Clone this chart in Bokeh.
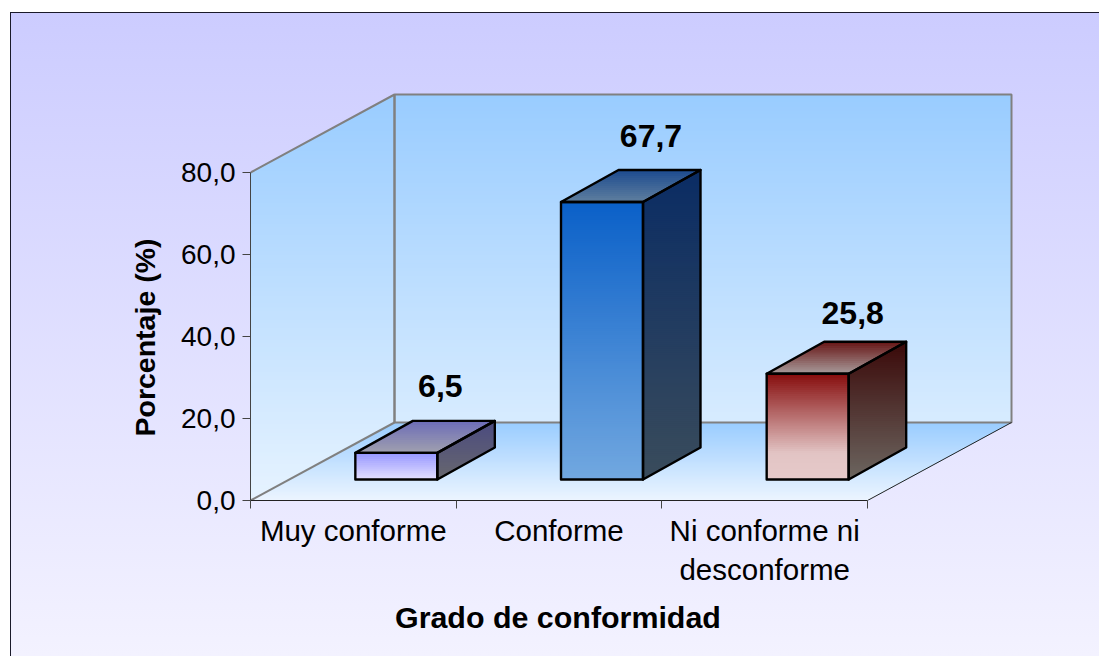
from bokeh.plotting import figure
from bokeh.embed import file_html
from bokeh.resources import INLINE
from bokeh.models import Range1d, FixedTicker, Title
from bokeh.core.properties import value

# ---- data ----
categories = ["Muy conforme", "Conforme", "Ni conforme ni\ndesconforme"]
percent = [6.5, 67.7, 25.8]
y_ticks = [0, 20, 40, 60, 80]
y_title = "Porcentaje (%)"
x_title = "Grado de conformidad"

# ---- layout / scale constants (pixels of the figure) ----
W, H = 1099, 656
PX_CAT = 205.67      # pixels per category
PX_VAL = 4.1         # pixels per percentage point
ML, MB = 250, 156
DX, DY = 144 / PX_CAT, 78 / PX_VAL        # depth of the 3D box, data units
BAR_W = 82 / PX_CAT
BAR_OX, BAR_OY = 43 / PX_CAT, 21 / PX_VAL  # front face offset from the floor front
BAR_DX, BAR_DY = 57.5 / PX_CAT, 32 / PX_VAL  # bar depth
LABEL_OX = [87 / PX_CAT, 92 / PX_CAT, 88 / PX_CAT]
LABEL_OY = [34.4 / PX_VAL, 34.4 / PX_VAL, 29.2 / PX_VAL]

# ---- colours ----
WALL = ["#99ccff", "#e6f3ff"]
FLOOR = ["#99ccff", "#ecf5ff"]
FRONTS = [
    [(0, "#9696ff"), (1, "#e4e0ff")],
    [(0, "#0a60c8"), (1, "#72a8e0")],
    [(0, "#860c0c"), (0.75, "#e2c4c4"), (1, "#e6caca")],
]
TOPS = [
    [(0, "#6c6cb8"), (1, "#a0a0ae")],
    [(0, "#1c4a8e"), (1, "#5f7f9f")],
    [(0, "#661414"), (1, "#a89c9c")],
]
SIDES = [
    [(0, "#4a4a80"), (1, "#68686e")],
    [(0, "#0a2c64"), (1, "#3a4c5c")],
    [(0, "#3a0808"), (1, "#6c6660")],
]


def hex2rgb(c):
    return tuple(int(c[i:i + 2], 16) for i in (1, 3, 5))


def mix(stops, t):
    for (t0, c0), (t1, c1) in zip(stops, stops[1:]):
        if t <= t1:
            f = (t - t0) / (t1 - t0)
            a, b = hex2rgb(c0), hex2rgb(c1)
            return "#%02x%02x%02x" % tuple(round(a[i] + (b[i] - a[i]) * f) for i in range(3))
    return stops[-1][1]


def clip_below(poly, y0):
    """Part of the polygon that lies at or below the data height y0."""
    out = []
    for (x1, y1), (x2, y2) in zip(poly, poly[1:] + poly[:1]):
        in1, in2 = y1 <= y0, y2 <= y0
        if in1:
            out.append((x1, y1))
        if in1 != in2:
            out.append((x1 + (y0 - y1) / (y2 - y1) * (x2 - x1), y0))
    return out


def gradient(p, poly, stops, step_px=2.0, ymax=None, ymin=None):
    ys = [q[1] for q in poly]
    top = max(ys) if ymax is None else ymax
    bot = min(ys) if ymin is None else ymin
    n = max(2, int((top - bot) * PX_VAL / step_px))
    xs_all, ys_all, cols = [], [], []
    for i in range(n):
        y0 = top - (top - bot) * i / n
        part = clip_below(poly, y0)
        if len(part) < 3:
            continue
        xs_all.append([q[0] for q in part])
        ys_all.append([q[1] for q in part])
        cols.append(mix(stops, (i + 0.5) / n))
    p.patches(xs_all, ys_all, fill_color=cols, line_color=None)


p = figure(
    width=W, height=H, output_backend="svg", toolbar_location=None,
    x_range=Range1d(0, (W - ML) / PX_CAT), y_range=Range1d(0, (H - MB) / PX_VAL),
    min_border_left=ML, min_border_bottom=MB, min_border_top=0, min_border_right=0,
    border_fill_color=None, background_fill_color=None, outline_line_color=None,
    stylesheets=[""":host::before{content:'';position:absolute;left:9.5px;top:12.3px;
        right:0;bottom:0;box-sizing:border-box;z-index:-1;
        border-left:1.4px solid #1a1a2a;border-top:1.4px solid #1a1a2a;
        background:linear-gradient(to bottom,#ccccff 0%,#f3f2ff 100%);}"""],
)
p.grid.visible = False

NCAT = len(categories)
YMAX = max(y_ticks)

# floor, side wall, back wall
gradient(p, [(0, 0), (NCAT, 0), (NCAT + DX, DY), (DX, DY)], [(0, FLOOR[0]), (1, FLOOR[1])])
gradient(p, [(0, 0), (DX, DY), (DX, YMAX + DY), (0, YMAX)], [(0, WALL[0]), (1, WALL[1])], 4)
gradient(p, [(DX, DY), (NCAT + DX, DY), (NCAT + DX, YMAX + DY), (DX, YMAX + DY)],
         [(0, WALL[0]), (1, WALL[1])], 4, ymin=0)

# wall outlines
p.line([0, DX, DX, NCAT + DX, NCAT + DX, DX], [YMAX, YMAX + DY, DY, DY, YMAX + DY, YMAX + DY],
       line_color="#808080", line_width=2)
p.line([0, DX], [0, DY], line_color="#808080", line_width=2)
p.line([DX, DX], [DY, YMAX + DY], line_color="#808080", line_width=2)
p.line([NCAT, NCAT + DX], [0, DY], line_color="#222222", line_width=1)

# bars
for i, v in enumerate(percent):
    x0 = i + 0.5 + BAR_OX - BAR_W / 2
    x1 = x0 + BAR_W
    y0 = BAR_OY
    y1 = y0 + v
    front = [(x0, y0), (x1, y0), (x1, y1), (x0, y1)]
    side = [(x1, y0), (x1 + BAR_DX, y0 + BAR_DY), (x1 + BAR_DX, y1 + BAR_DY), (x1, y1)]
    top = [(x0, y1), (x1, y1), (x1 + BAR_DX, y1 + BAR_DY), (x0 + BAR_DX, y1 + BAR_DY)]
    gradient(p, front, FRONTS[i])
    gradient(p, side, SIDES[i])
    gradient(p, top, TOPS[i])
    for face in (front, side, top):
        p.patch([q[0] for q in face], [q[1] for q in face], fill_color=None,
                line_color="#000000", line_width=2.4, line_join="round")
    p.text([i + 0.5 + LABEL_OX[i]], [BAR_OY + v + BAR_DY + LABEL_OY[i]],
           text=[f"{v:.1f}".replace(".", ",")], text_align="center", text_baseline="middle",
           text_font=value("Liberation Sans"), text_font_style="bold",
           text_font_size="32px", text_color="#000000")

# axes
ax = p.yaxis[0]
ax.bounds = (0, YMAX)
ax.ticker = FixedTicker(ticks=y_ticks)
ax.major_label_overrides = {t: f"{t:.1f}".replace(".", ",") for t in y_ticks}
ax.major_label_text_font = "Liberation Sans"
ax.major_label_text_font_size = "28px"
ax.major_label_text_color = "#000000"
ax.major_label_standoff = 7
ax.major_tick_in = 0
ax.major_tick_out = 8
ax.minor_tick_line_color = None
ax.axis_line_color = "#444444"
ax.major_tick_line_color = "#444444"

bx = p.xaxis[0]
bx.bounds = (0, NCAT)
bx.ticker = FixedTicker(ticks=[i + 0.5 for i in range(NCAT)], minor_ticks=list(range(NCAT + 1)))
bx.major_label_overrides = {i + 0.5: c for i, c in enumerate(categories)}
bx.major_label_text_font = "Liberation Sans"
bx.major_label_text_font_size = "29.5px"
bx.major_label_text_color = "#000000"
bx.major_label_standoff = 5
bx.major_tick_in = 0
bx.major_tick_out = 0
bx.major_tick_line_color = None
bx.minor_tick_in = 0
bx.minor_tick_out = 8
bx.minor_tick_line_color = "#444444"
bx.axis_line_color = "#222222"

# axis titles, offset along the frame so they centre on each axis's own extent
p.add_layout(Title(text=x_title, align="left", offset=144.5, standoff=16,
                   text_font="Liberation Sans", text_font_style="bold",
                   text_font_size="30.4px", text_color="#000000"), "below")
p.add_layout(Title(text=y_title, align="left", offset=64, standoff=35,
                   text_font="Liberation Sans", text_font_style="bold",
                   text_font_size="28.5px", text_color="#000000"), "left")

open("out.html", "w").write(file_html(p, INLINE))
